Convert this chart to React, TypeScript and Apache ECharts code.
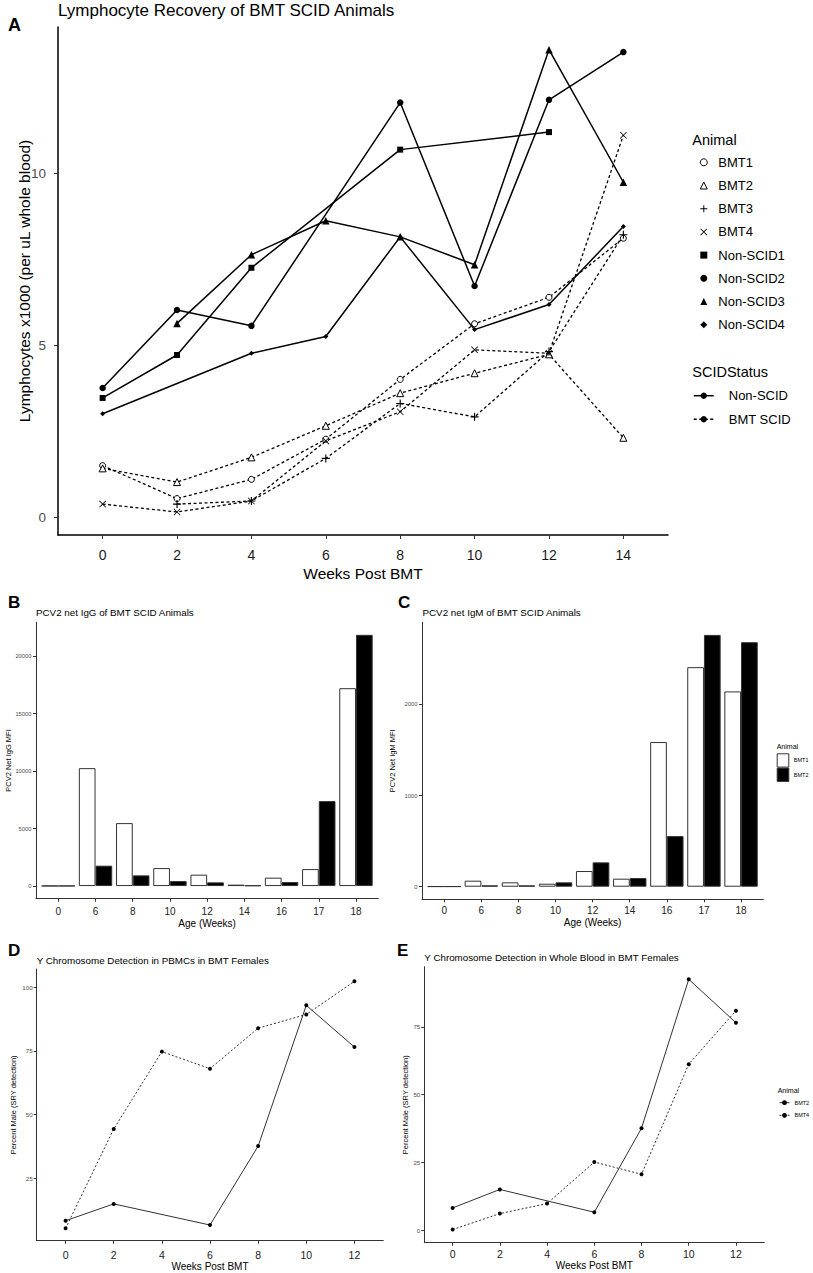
import React, { useEffect, useRef } from "react";
import * as echarts from "echarts";

const FONT = "'Liberation Sans', Arial, Helvetica, sans-serif";

// ---------- Panel A data ----------
const weeksA = [0, 2, 4, 6, 8, 10, 12, 14];
const xTicksA = [0, 2, 4, 6, 8, 10, 12, 14];
const yTicksA = [0, 5, 10];
const bmt1A = [1.5, 0.54, 1.1, 2.27, 4.01, 5.63, 6.4, 8.12];
const bmt2A = [1.42, 1.02, 1.74, 2.66, 3.61, 4.19, 4.74, 2.31];
const bmt3A = [null, 0.38, 0.47, 1.71, 3.31, 2.92, 4.82, 8.22];
const bmt4A = [0.38, 0.15, 0.47, 2.22, 3.07, 4.87, 4.77, 11.12];
const nonScid1A = [3.47, 4.72, 7.26, null, 10.7, null, 11.21, null];
const nonScid2A = [3.76, 6.03, 5.57, null, 12.07, 6.73, 12.15, 13.54];
const nonScid3A = [null, 5.64, 7.64, 8.63, 8.16, 7.35, 13.61, 9.75];
const nonScid4A = [3.01, null, 4.77, 5.26, 8.16, 5.46, 6.19, 8.46];
const scidStatusNames = ["Non-SCID", "BMT SCID"];

// ---------- Panels B / C data ----------
const ageLabels = ["0", "6", "8", "10", "12", "14", "16", "17", "18"];
const ageIndex = [0, 1, 2, 3, 4, 5, 6, 7, 8];
const igG_BMT1 = [20, 10260, 5478, 1565, 991, 122, 730, 1478, 17217];
const igG_BMT2 = [20, 1773, 930, 435, 322, 61, 348, 7391, 21861];
const yTicksB = [0, 5000, 10000, 15000, 20000];
const igM_BMT1 = [3, 66, 48, 33, 172, 88, 1586, 2407, 2141];
const igM_BMT2 = [3, 15, 15, 48, 267, 95, 555, 2761, 2681];
const yTicksC = [0, 1000, 2000];

// ---------- Panels D / E data ----------
const weeksDE = [0, 2, 4, 6, 8, 10, 12];
const xTicksDE = [0, 2, 4, 6, 8, 10, 12];
const pbmc_BMT2 = [8.3, 14.9, null, 6.6, 37.6, 92.9, 76.5];
const pbmc_BMT4 = [5.3, 44.3, 74.7, 68.0, 83.9, 89.3, 102.3];
const yTicksD = [25, 50, 75, 100];
const blood_BMT2 = [8.2, 15.0, null, 6.6, 37.6, 92.5, 76.5];
const blood_BMT4 = [0.2, 6.1, 9.8, 25.1, 20.6, 61.2, 80.9];
const yTicksE = [0, 25, 50, 75];

// ---------- helpers ----------
const PLUS = "path://M4.3,0H5.7V4.3H10V5.7H5.7V10H4.3V5.7H0V4.3H4.3Z";
const CROSS =
  "path://M0.8,0L5,4.2L9.2,0L10,0.8L5.8,5L10,9.2L9.2,10L5,5.8L0.8,10L0,9.2L4.2,5L0,0.8Z";

function pairs(xs: number[], ys: (number | null)[]) {
  const out: number[][] = [];
  xs.forEach((x, i) => {
    const v = ys[i];
    if (v !== null && v !== undefined) out.push([x, v]);
  });
  return out;
}

function txt(text: string, x: number, y: number, size: number, bold = false, color = "#000") {
  return {
    type: "text",
    x,
    y,
    silent: true,
    style: {
      text,
      fill: color,
      fontSize: size,
      fontWeight: bold ? "bold" : "normal",
      fontFamily: FONT,
      textAlign: "left",
      textVerticalAlign: "middle",
      align: "left",
      verticalAlign: "middle",
    },
  };
}

const plainNumber = (v: number) => String(v);

function axisCommon(o: any) {
  return {
    type: "value",
    min: o.min,
    max: o.max,
    axisLine: { show: true, onZero: false, lineStyle: { color: o.lineColor, width: o.lineWidth } },
    axisTick: { show: true, customValues: o.ticks, length: o.tickLen, lineStyle: { color: "#333", width: 1 } },
    axisLabel: {
      customValues: o.ticks,
      fontSize: o.labelSize,
      color: o.labelColor,
      margin: o.margin,
      fontFamily: FONT,
      formatter: o.formatter || plainNumber,
    },
    splitLine: { show: false },
    name: o.name,
    nameLocation: "middle",
    nameGap: o.nameGap,
    nameRotate: o.nameRotate,
    nameMoveOverlap: false,
    nameTextStyle: { fontSize: o.nameSize, color: "#000", fontFamily: FONT },
  };
}

// ---------- Panel A ----------
const animalDefsA = [
  { name: "BMT1", values: bmt1A, symbol: "circle", size: 6, hollow: true, dashed: true },
  { name: "BMT2", values: bmt2A, symbol: "triangle", size: 7, hollow: true, dashed: true },
  { name: "BMT3", values: bmt3A, symbol: PLUS, size: 8, hollow: false, dashed: true },
  { name: "BMT4", values: bmt4A, symbol: CROSS, size: 7, hollow: false, dashed: true },
  { name: "Non-SCID1", values: nonScid1A, symbol: "rect", size: 6, hollow: false, dashed: false },
  { name: "Non-SCID2", values: nonScid2A, symbol: "circle", size: 6.5, hollow: false, dashed: false },
  { name: "Non-SCID3", values: nonScid3A, symbol: "triangle", size: 7.5, hollow: false, dashed: false },
  { name: "Non-SCID4", values: nonScid4A, symbol: "diamond", size: 5, hollow: false, dashed: false },
];

const hollowStyle = { color: "#fff", borderColor: "#000", borderWidth: 1 };
const solidStyle = { color: "#000", borderWidth: 0 };

const optA: any = {
  animation: false,
  grid: { left: 58, top: 27, width: 610, height: 508, containLabel: false, outerBoundsMode: "none" },
  xAxis: axisCommon({
    min: -1.2, max: 15.2, ticks: xTicksA, lineColor: "#000", lineWidth: 1.5, tickLen: 4,
    labelSize: 14, labelColor: "#1a1a1a", margin: 13,
    name: "Weeks Post BMT", nameGap: 30, nameSize: 15.5,
  }),
  yAxis: axisCommon({
    min: -0.52, max: 14.27, ticks: yTicksA, lineColor: "#000", lineWidth: 1.5, tickLen: 4,
    labelSize: 13.5, labelColor: "#4d4d4d", margin: 12,
    name: "Lymphocytes x1000 (per uL whole blood)", nameGap: 26, nameRotate: 90, nameSize: 15.5,
  }),
  legend: [
    {
      orient: "vertical",
      left: 699.8,
      top: 155.3,
      padding: 0,
      itemWidth: 7,
      itemHeight: 7,
      itemGap: 9.2,
      symbolKeepAspect: true,
      selectedMode: false,
      textStyle: { fontSize: 13, color: "#000", fontFamily: FONT, lineHeight: 14, padding: [0, 0, 0, 6] },
      data: animalDefsA.map((d) => ({
        name: d.name,
        icon: d.symbol,
        itemStyle: d.hollow ? hollowStyle : solidStyle,
      })),
    },
    {
      orient: "vertical",
      left: 693,
      top: 388.7,
      padding: 0,
      itemWidth: 20,
      itemHeight: 8,
      itemGap: 9.6,
      selectedMode: false,
      lineStyle: { width: 1.5 },
      textStyle: { fontSize: 13, color: "#000", fontFamily: FONT, lineHeight: 14, padding: [0, 0, 0, 10] },
      data: scidStatusNames,
    },
  ],
  series: [
    ...animalDefsA.map((d) => ({
      type: "line",
      name: d.name,
      data: pairs(weeksA, d.values),
      symbol: d.symbol,
      symbolSize: d.size,
      showAllSymbol: true,
      itemStyle: d.hollow ? hollowStyle : solidStyle,
      lineStyle: { color: "#000", width: d.dashed ? 1.3 : 1.5, type: d.dashed ? [3, 2.5] : "solid" },
      emphasis: { disabled: true },
      z: d.dashed ? 2 : 3,
    })),
    {
      type: "line",
      name: scidStatusNames[0],
      data: [],
      symbol: "circle",
      itemStyle: { color: "#000" },
      lineStyle: { color: "#000", width: 1.5, type: "solid" },
    },
    {
      type: "line",
      name: scidStatusNames[1],
      data: [],
      symbol: "circle",
      itemStyle: { color: "#000" },
      lineStyle: { color: "#000", width: 1.5, type: [3, 2.5] },
    },
  ],
  graphic: [
    txt("A", 8, 25, 18, true),
    txt("Lymphocyte Recovery of BMT SCID Animals", 58, 10, 17),
    txt("Animal", 692.3, 140, 14.5),
    txt("SCIDStatus", 692.3, 372.3, 14.5),
  ],
};

// ---------- Panels B / C ----------
function barOption(o: any) {
  return {
    animation: false,
    grid: { left: o.left, top: 622.3, width: o.width, height: o.height, containLabel: false, outerBoundsMode: "none" },
    xAxis: axisCommon({
      min: -0.6, max: 8.6, ticks: ageIndex, lineColor: "#333", lineWidth: 1, tickLen: 3,
      labelSize: 10, labelColor: "#222", margin: o.xMargin,
      formatter: (v: number) => ageLabels[Math.round(v)] ?? "",
      name: "Age (Weeks)", nameGap: o.xNameGap, nameSize: 10,
    }),
    yAxis: axisCommon({
      min: o.ymin, max: o.ymax, ticks: o.yTicks, lineColor: "#333", lineWidth: 1, tickLen: 3,
      labelSize: 5.8, labelColor: "#4d4d4d", margin: 4.5,
      name: o.yName, nameGap: o.yNameGap, nameRotate: 90, nameSize: 7.5,
    }),
    legend: o.legend,
    series: [
      {
        type: "bar",
        name: "BMT1",
        data: ageIndex.map((i) => [i, o.v1[i]]),
        barWidth: o.barW,
        barGap: "0%",
        itemStyle: { color: "#fff", borderColor: "#333", borderWidth: 1 },
        emphasis: { disabled: true },
      },
      {
        type: "bar",
        name: "BMT2",
        data: ageIndex.map((i) => [i, o.v2[i]]),
        barWidth: o.barW,
        barGap: "0%",
        itemStyle: { color: "#000", borderColor: "#333", borderWidth: 1 },
        emphasis: { disabled: true },
      },
    ],
    graphic: o.graphic,
  };
}

const optB: any = barOption({
  left: 36, width: 342.3, height: 276.4, xMargin: 8, xNameGap: 20,
  ymin: -1100, ymax: 22950, yTicks: yTicksB, yName: "PCV2 Net IgG MFI", yNameGap: 24,
  v1: igG_BMT1, v2: igG_BMT2, barW: 16.7,
  graphic: [txt("B", 8, 602.7, 17, true), txt("PCV2 net IgG of BMT SCID Animals", 36, 612.7, 9.8)],
});

const optC: any = barOption({
  left: 422, width: 341.3, height: 277, xMargin: 6.5, xNameGap: 18,
  ymin: -138, ymax: 2899, yTicks: yTicksC, yName: "PCV2 Net IgM MFI", yNameGap: 25.5,
  v1: igM_BMT1, v2: igM_BMT2, barW: 16.7,
  legend: {
    orient: "vertical",
    left: 776.7,
    top: 753.3,
    padding: 0,
    itemWidth: 11.6,
    itemHeight: 13.3,
    itemGap: 0,
    symbolKeepAspect: false,
    selectedMode: false,
    textStyle: { fontSize: 5.5, color: "#000", fontFamily: FONT },
    data: [
      { name: "BMT1", icon: "rect", itemStyle: { color: "#fff", borderColor: "#333", borderWidth: 1 } },
      { name: "BMT2", icon: "rect", itemStyle: { color: "#000", borderColor: "#333", borderWidth: 1 } },
    ],
  },
  graphic: [
    txt("C", 398, 602.7, 17, true),
    txt("PCV2 net IgM of BMT SCID Animals", 422.5, 612.7, 9.8),
    txt("Animal", 776.7, 746.7, 7),
  ],
});

// ---------- Panels D / E ----------
function yOption(o: any) {
  return {
    animation: false,
    grid: { left: o.left, top: o.top, width: o.width, height: o.height, containLabel: false, outerBoundsMode: "none" },
    xAxis: axisCommon({
      min: -1.2, max: 13.2, ticks: xTicksDE, lineColor: "#333", lineWidth: 1, tickLen: 3,
      labelSize: 10.5, labelColor: "#222", margin: o.xMargin,
      name: "Weeks Post BMT", nameGap: o.xNameGap, nameSize: 10,
    }),
    yAxis: axisCommon({
      min: o.ymin, max: o.ymax, ticks: o.yTicks, lineColor: "#333", lineWidth: 1, tickLen: 3,
      labelSize: 6.2, labelColor: "#4d4d4d", margin: 4,
      name: "Percent Male (SRY detection)", nameGap: o.yNameGap, nameRotate: 90, nameSize: 7.5,
    }),
    legend: o.legend,
    series: [
      {
        type: "line",
        name: "BMT2",
        data: pairs(weeksDE, o.v2),
        symbol: "circle",
        symbolSize: 4,
        showAllSymbol: true,
        itemStyle: { color: "#000" },
        lineStyle: { color: "#333", width: 1, type: "solid" },
        emphasis: { disabled: true },
      },
      {
        type: "line",
        name: "BMT4",
        data: pairs(weeksDE, o.v4),
        symbol: "circle",
        symbolSize: 4,
        showAllSymbol: true,
        itemStyle: { color: "#000" },
        lineStyle: { color: "#333", width: 1, type: [2, 2] },
        emphasis: { disabled: true },
      },
    ],
    graphic: o.graphic,
  };
}

const optD: any = yOption({
  left: 36.7, top: 969, width: 346.6, height: 271.7, xMargin: 8.5, xNameGap: 20.5,
  ymin: 0.45, ymax: 107.15, yTicks: yTicksD, yNameGap: 19.4,
  v2: pbmc_BMT2, v4: pbmc_BMT4,
  graphic: [txt("D", 8, 950, 17, true), txt("Y Chromosome Detection in PBMCs in BMT Females", 36.7, 960, 9.8)],
});

const optE: any = yOption({
  left: 424.3, top: 966.7, width: 340, height: 276, xMargin: 6, xNameGap: 17.5,
  ymin: -4.63, ymax: 97.15, yTicks: yTicksE, yNameGap: 15.3,
  v2: blood_BMT2, v4: blood_BMT4,
  legend: {
    orient: "vertical",
    left: 779,
    top: 1099.7,
    padding: 0,
    itemWidth: 10,
    itemHeight: 6,
    itemGap: 6.6,
    selectedMode: false,
    lineStyle: { width: 1 },
    textStyle: { fontSize: 5.5, color: "#000", fontFamily: FONT, lineHeight: 6 },
    data: ["BMT2", "BMT4"],
  },
  graphic: [
    txt("E", 397, 950, 17, true),
    txt("Y Chromosome Detection in Whole Blood in BMT Females", 424.3, 957.7, 9.8),
    txt("Animal", 777.7, 1090.7, 7),
  ],
});

const OPTIONS = [optA, optB, optC, optD, optE];

export default function App() {
  const holders = useRef<(HTMLDivElement | null)[]>([]);
  useEffect(() => {
    const charts = OPTIONS.map((opt, i) => {
      const el = holders.current[i] as HTMLDivElement;
      const c = echarts.init(el, null, { renderer: "svg" });
      c.setOption(opt);
      return c;
    });
    return () => charts.forEach((c) => c.dispose());
  }, []);
  return (
    <div style={{ position: "absolute", left: 0, top: 0, width: 813, height: 1273, background: "#fff" }}>
      {OPTIONS.map((_, i) => (
        <div
          key={i}
          ref={(el) => {
            holders.current[i] = el;
          }}
          style={{ position: "absolute", left: 0, top: 0, width: 813, height: 1273 }}
        />
      ))}
    </div>
  );
}
